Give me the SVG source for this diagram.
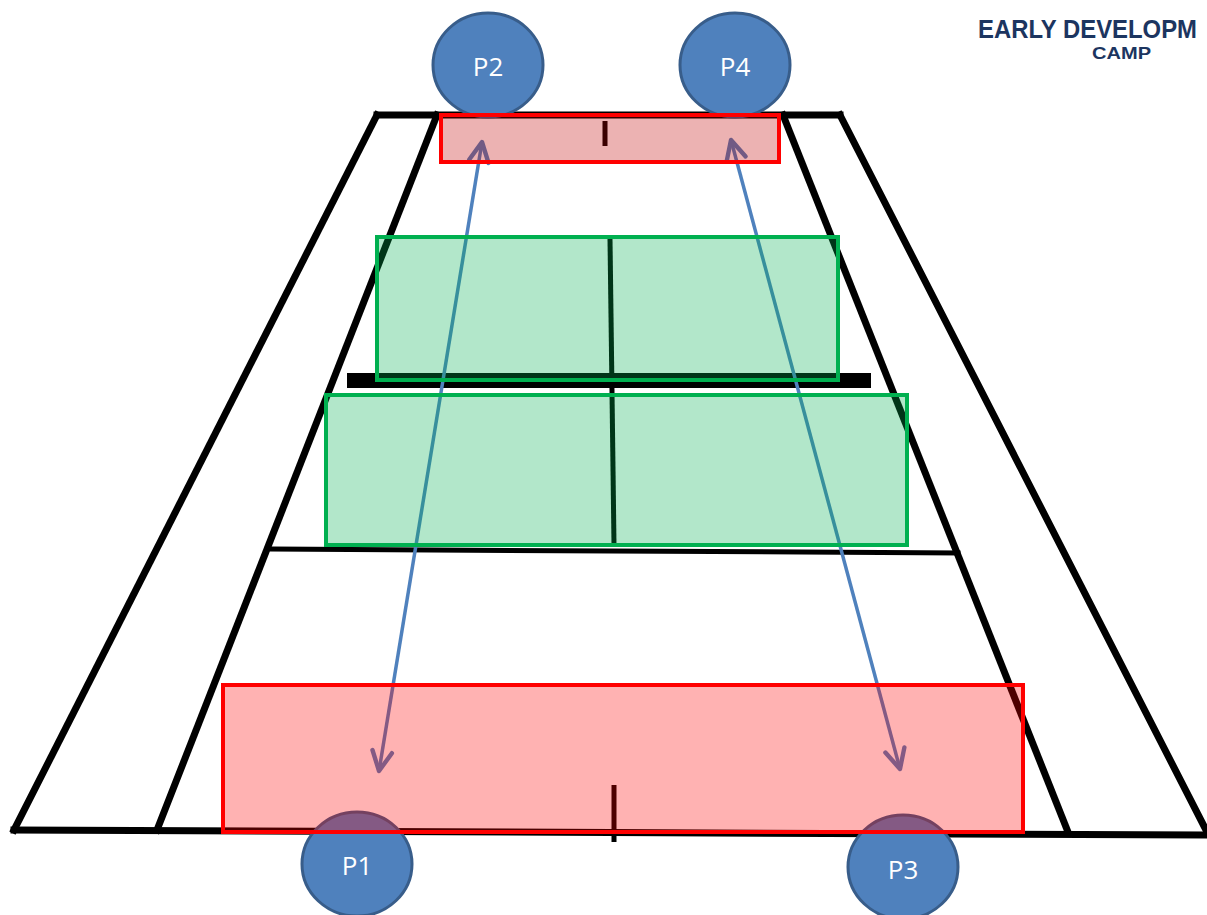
<svg xmlns="http://www.w3.org/2000/svg" width="1207" height="915" viewBox="0 0 1207 915">
<style>
.court{stroke:#000;stroke-width:7;fill:none;stroke-linecap:square}
.mark{stroke:#000;stroke-width:5;fill:none}
.player{fill:#4f81bd;stroke:#385d8a;stroke-width:3}
.plabel{font-family:"Open Sans","Noto Sans",sans-serif;font-size:26px;fill:#fff;text-anchor:middle}
.arrow{stroke:#4f81bd;stroke-width:3.5;fill:none;marker-start:url(#ah);marker-end:url(#ah)}
.zoneR{fill:#ff0000;fill-opacity:0.3;stroke:#ff0000;stroke-width:4}
.zoneRt{fill:#c00000;fill-opacity:0.3;stroke:#ff0000;stroke-width:4}
.zoneG{fill:#00b050;fill-opacity:0.3;stroke:#00b050;stroke-width:4}
.title{font-family:"Liberation Sans",Arial,sans-serif;font-weight:bold;fill:#1c3560}
</style>
<defs>
<marker id="ah" viewBox="0 0 12 12" refX="10.5" refY="6" markerWidth="7.5" markerHeight="7.5" orient="auto-start-reverse" markerUnits="strokeWidth">
<path d="M1.5,1.5 L10.5,6 L1.5,10.5" fill="none" stroke="#4f81bd" stroke-width="2" stroke-linecap="round" stroke-linejoin="round"/>
</marker>
</defs>
<rect width="1207" height="915" fill="#fff"/>
<g id="court">
<line class="court" x1="377" y1="115" x2="840" y2="115"/>
<line class="court" x1="377" y1="115" x2="14" y2="830"/>
<line class="court" x1="840" y1="115" x2="1207" y2="832"/>
<line class="court" x1="437" y1="115" x2="157" y2="830"/>
<line class="court" x1="783" y1="115" x2="1068" y2="832"/>
<line class="court" x1="14" y1="830" x2="1207" y2="835"/>
<line class="court" x1="272" y1="549" x2="958" y2="553" style="stroke-width:5"/>
<line class="court" x1="347" y1="380.5" x2="871" y2="380.5" style="stroke-width:15;stroke-linecap:butt"/>
<line class="mark" x1="610" y1="239" x2="614" y2="545"/>
<line class="mark" x1="605" y1="121" x2="605" y2="146"/>
<line class="mark" x1="614" y1="785" x2="614" y2="842"/>
</g>
<g id="P2"><ellipse class="player" cx="488" cy="65" rx="55" ry="52"/><text class="plabel" x="488" y="76">P2</text></g>
<g id="P4"><ellipse class="player" cx="735" cy="65" rx="55" ry="52"/><text class="plabel" x="735" y="76">P4</text></g>
<g id="P1"><ellipse class="player" cx="357" cy="864" rx="55" ry="52"/><text class="plabel" x="357" y="875">P1</text></g>
<g id="P3"><ellipse class="player" cx="903" cy="867" rx="55" ry="52"/><text class="plabel" x="903" y="879">P3</text></g>
<g id="connectors">
<line class="arrow" x1="482" y1="142" x2="379" y2="771"/>
<line class="arrow" x1="731" y1="140" x2="900" y2="769"/>
</g>
<g id="zones">
<rect id="zone-top" class="zoneRt" x="441" y="115" width="338" height="47"/>
<rect id="zone-green1" class="zoneG" x="377" y="237" width="461" height="143"/>
<rect id="zone-green2" class="zoneG" x="326" y="395" width="581" height="150"/>
<rect id="zone-bottom" class="zoneR" x="223" y="685" width="800" height="147"/>
</g>
<g id="title">
<text class="title" x="978" y="38" font-size="25" textLength="219" lengthAdjust="spacingAndGlyphs">EARLY DEVELOPM</text>
<text class="title" x="1092" y="59" font-size="17" textLength="59" lengthAdjust="spacingAndGlyphs">CAMP</text>
</g>
</svg>
